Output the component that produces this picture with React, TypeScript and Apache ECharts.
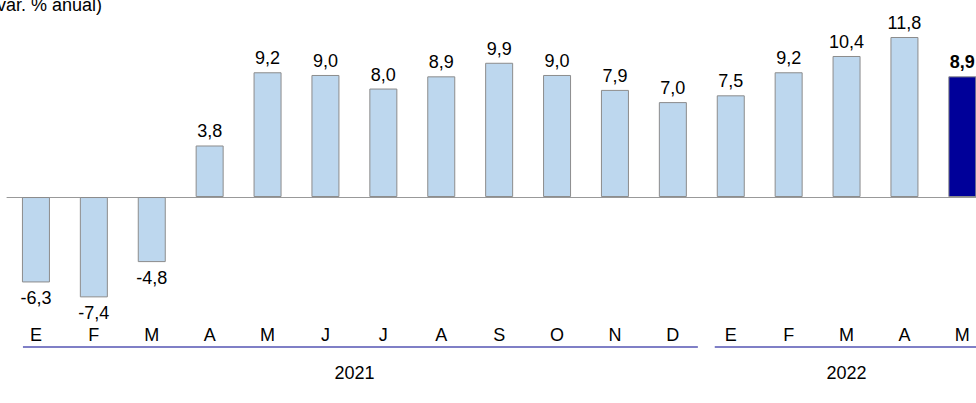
import React, { useEffect, useRef } from "react";
import * as echarts from "echarts";

const months = ["E", "F", "M", "A", "M", "J", "J", "A", "S", "O", "N", "D", "E", "F", "M", "A", "M"];
const values = [-6.3, -7.4, -4.8, 3.8, 9.2, 9.0, 8.0, 8.9, 9.9, 9.0, 7.9, 7.0, 7.5, 9.2, 10.4, 11.8, 8.9];
const years = ["2021", "2022"];
const yearFirst = [0, 12];
const yearLast = [11, 16];
const highlightIndex = 16;
const title = "(var. % anual)";

const FONT = "Liberation Sans, Arial, sans-serif";

export default function App() {
  const ref = useRef<HTMLDivElement>(null);
  useEffect(() => {
    document.body.style.margin = "0";
    const chart = echarts.init(ref.current!, undefined, { renderer: "svg" });
    const fmt = (v: number) => v.toFixed(1).replace(".", ",");
    const data = values.map((v, i) => ({
      value: v,
      itemStyle: i === highlightIndex ? { color: "#000099" } : undefined,
      label: {
        position: v >= 0 ? "top" : "bottom",
        distance: v >= 0 ? 5 : 7,
        fontWeight: i === highlightIndex ? "bold" : "normal",
      },
    }));
    chart.setOption({
      animation: false,
      textStyle: { fontFamily: FONT },
      grid: { left: 7, width: 984.3, top: 34.3, height: 271.2 },
      xAxis: [
        {
          type: "category",
          data: months,
          axisLine: { onZero: true, lineStyle: { color: "#999999", width: 1 } },
          axisTick: { show: false },
          axisLabel: { show: false },
        },
        {
          type: "category",
          data: months,
          position: "bottom",
          axisLine: { show: false },
          axisTick: { show: false },
          axisLabel: { color: "#000", fontSize: 18, margin: 20, fontFamily: FONT },
        },
      ],
      yAxis: { type: "value", min: -8, max: 12, show: false, splitLine: { show: false } },
      series: [
        {
          type: "bar",
          data,
          barWidth: 28,
          itemStyle: { color: "#BDD7EE", borderColor: "#8C8C8C", borderWidth: 1 },
          label: {
            show: true,
            color: "#000",
            fontSize: 18,
            fontFamily: FONT,
            formatter: (p: any) => fmt(p.value),
          },
        },
      ],
    });
    const px = (i: number) => chart.convertToPixel({ xAxisIndex: 0 }, i) as number;
    const startOff = [-13, -16];
    const endOff = [25, 40];
    const graphics: any[] = [
      {
        type: "text",
        left: -9,
        top: -4,
        style: { text: title, fontSize: 18, fontFamily: FONT, fill: "#000" },
      },
    ];
    years.forEach((y, k) => {
      const a = px(yearFirst[k]);
      const b = px(yearLast[k]);
      graphics.push({
        type: "line",
        shape: { x1: a + startOff[k], y1: 347, x2: b + endOff[k], y2: 347 },
        style: { stroke: "#7F7FC6", lineWidth: 2 },
      });
      graphics.push({
        type: "text",
        x: (a + b) / 2,
        y: 373,
        style: {
          text: y,
          fontSize: 18,
          fontFamily: FONT,
          fill: "#000",
          align: "center",
          verticalAlign: "middle",
        },
      });
    });
    chart.setOption({ graphic: graphics });
    return () => chart.dispose();
  }, []);
  return (
    <div style={{ width: 976, height: 403, overflow: "hidden", position: "relative" }}>
      <div ref={ref} style={{ width: 1000, height: 403 }} />
    </div>
  );
}
